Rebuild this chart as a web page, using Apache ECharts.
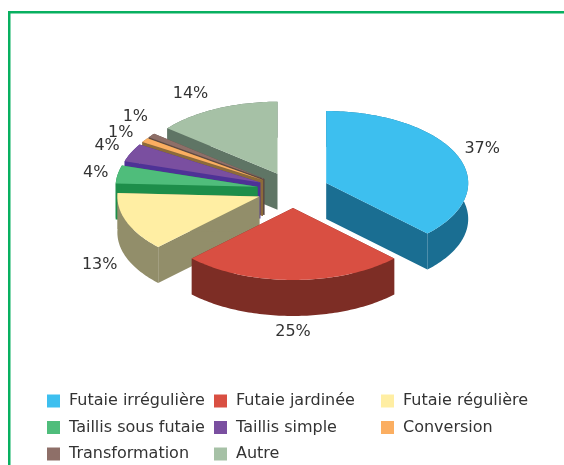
<!DOCTYPE html>
<html>
<head>
<meta charset="utf-8">
<script src="https://cdn.jsdelivr.net/npm/echarts@6/dist/echarts.min.js"></script>
<style>
  html, body { margin: 0; padding: 0; background: #fff; }
  #chart { width: 564px; height: 465px; }
</style>
</head>
<body>
<div id="chart"></div>
<script>
const categories = ['Futaie irrégulière', 'Futaie jardinée', 'Futaie régulière', 'Taillis sous futaie', 'Taillis simple', 'Conversion', 'Transformation', 'Autre']
const values = [37, 25, 13, 4, 4, 1, 1, 14]
const topColors = ['#3dbfef', '#d94f42', '#ffeea3', '#4fbd7b', '#7a4fa0', '#fbae61', '#8e6f68', '#a6c1a6']
const wallColors = ['#1a6e92', '#7d2d25', '#928e6a', '#1d8e4a', '#4e3296', '#8c6a3a', '#5e4a44', '#5f7565']

// fake 3d pie layout
const cx = 293
const cy = 190
const rx = 142
const ry = 72
const depth = 36
const explode = 36

// label nudge from the rim of each slice
const labelNudge = [[25, -6], [0, 16], [-27, 7], [-22, -2], [-24, -7], [-24, -7], [-16, -19], [-26, -15]]

const total = values.reduce((a, b) => a + b, 0)

function rad(share) {
  return share * Math.PI * 2
}

function sliceShape(i) {
  let before = 0
  for (let k = 0; k < i; k++) before += values[k]
  const a0 = rad(before / total)
  const a1 = rad((before + values[i]) / total)
  const mid = (a0 + a1) / 2
  const ox = cx + Math.sin(mid) * explode
  const oy = cy - Math.cos(mid) * explode * 0.5
  const rim = []
  const steps = Math.max(2, Math.ceil((a1 - a0) / 0.02))
  for (let s = 0; s <= steps; s++) {
    const a = a0 + ((a1 - a0) * s) / steps
    rim.push([ox + Math.sin(a) * rx, oy - Math.cos(a) * ry])
  }
  return { ox, oy, rim, mid }
}

function poly(points, fill) {
  return { type: 'polygon', shape: { points }, style: { fill } }
}

function renderSlice(i) {
  const { ox, oy, rim, mid } = sliceShape(i)
  const down = p => [p[0], p[1] + depth]
  const first = rim[0]
  const last = rim[rim.length - 1]
  const wall = wallColors[i]
  const outer = rim.concat(rim.slice().reverse().map(down))
  const lx = ox + Math.sin(mid) * rx + labelNudge[i][0]
  const front = Math.cos(mid) < 0 ? depth : 0
  const ly = oy - Math.cos(mid) * ry + front + labelNudge[i][1]
  return {
    type: 'group',
    children: [
      poly([[ox, oy], first, down(first), [ox, oy + depth]], wall),
      poly([[ox, oy], last, down(last), [ox, oy + depth]], wall),
      poly(outer, wall),
      poly([[ox, oy]].concat(rim), topColors[i]),
      {
        type: 'text',
        style: {
          x: lx,
          y: ly,
          text: values[i] + '%',
          fill: '#333',
          font: '16px "DejaVu Sans"',
          align: 'center',
          verticalAlign: 'middle'
        }
      }
    ]
  }
}

const series = categories.map((name, i) => ({
  type: 'custom',
  name,
  coordinateSystem: 'none',
  z: categories.length - i,
  silent: true,
  animation: false,
  itemStyle: { color: topColors[i] },
  data: [values[i]],
  renderItem: () => renderSlice(i)
}))

function legendColumn(left, names) {
  return {
    orient: 'vertical',
    left,
    top: 393,
    padding: 0,
    icon: 'rect',
    itemWidth: 13,
    itemHeight: 13,
    itemGap: 10.5,
    selectedMode: false,
    data: names,
    textStyle: { fontFamily: 'DejaVu Sans', fontSize: 16, lineHeight: 16, color: '#333', padding: [0, 0, 0, 4] }
  }
}

let chart = echarts.init(document.getElementById('chart'), null, { renderer: 'canvas' })

chart.setOption({
  animation: false,
  backgroundColor: '#fff',
  graphic: [
    { type: 'rect', silent: true, shape: { x: 8, y: 11, width: 556, height: 2.5 }, style: { fill: '#08b060' } },
    { type: 'rect', silent: true, shape: { x: 8, y: 11, width: 2.5, height: 454 }, style: { fill: '#08b060' } }
  ],
  legend: [
    legendColumn(47, [categories[0], categories[3], categories[6]]),
    legendColumn(214, [categories[1], categories[4], categories[7]]),
    legendColumn(381, [categories[2], categories[5]])
  ],
  series
})
</script>
</body>
</html>
